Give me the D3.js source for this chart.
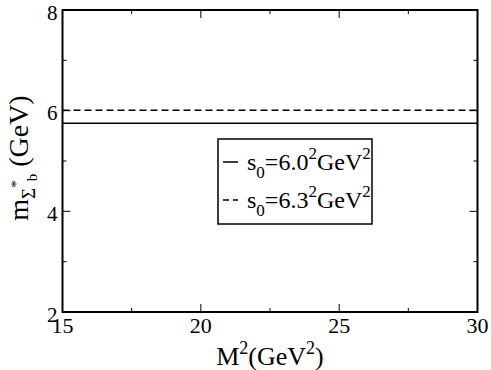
<!DOCTYPE html>
<html>
<head>
<meta charset="utf-8">
<script src="https://cdn.jsdelivr.net/npm/d3@7"></script>
</head>
<body style="margin:0">
<svg id="plot" width="491" height="370"></svg>
<script>
// M^2 values (GeV^2) and the mass
const m2 = [15, 17.5, 20, 22.5, 25, 27.5, 30];
const massS60 = [5.75, 5.75, 5.75, 5.75, 5.75, 5.75, 5.75];
const massS63 = [6.01, 6.01, 6.01, 6.01, 6.01, 6.01, 6.01];
const xTicks = [15, 20, 25, 30];
const yTicks = [2, 4, 6, 8];
const xMinor = [17.5, 22.5, 27.5];
const yMinor = [3, 5, 7];

const FONT = "Liberation Serif";
const svg = d3.select("#plot");
const margin = { top: 10, right: 13.5, bottom: 58, left: 62.5 };
const width = +svg.attr("width");
const height = +svg.attr("height");
const plotW = width - margin.left - margin.right;
const plotH = height - margin.top - margin.bottom;

const x = d3.scaleLinear().domain([15, 30]).range([0, plotW]);
const y = d3.scaleLinear().domain([2, 8]).range([plotH, 0]);

function txt(parent) {
  return parent.append("text").attr("font-family", FONT).style("font-family", "'Liberation Serif', Times, serif");
}

const g = svg.append("g").attr("transform", `translate(${margin.left},${margin.top})`);

// ticks, inward on all four sides
const tickG = g.append("g").attr("stroke", "#000").attr("stroke-width", 1);
xTicks.concat(xMinor).forEach(v => {
  const len = xTicks.includes(v) ? 8 : 4;
  tickG.append("line").attr("x1", x(v)).attr("x2", x(v)).attr("y1", plotH).attr("y2", plotH - len);
  tickG.append("line").attr("x1", x(v)).attr("x2", x(v)).attr("y1", 0).attr("y2", len);
});
yTicks.concat(yMinor).forEach(v => {
  const len = yTicks.includes(v) ? 8 : 4;
  tickG.append("line").attr("x1", 0).attr("x2", len).attr("y1", y(v)).attr("y2", y(v));
  tickG.append("line").attr("x1", plotW).attr("x2", plotW - len).attr("y1", y(v)).attr("y2", y(v));
});

// tick labels
xTicks.forEach(d => {
  txt(g).attr("x", x(d)).attr("y", plotH + 21)
    .attr("text-anchor", "middle").attr("font-size", 22).text(d);
});
yTicks.forEach(d => {
  txt(g).attr("x", -5).attr("y", y(d) + 9.5)
    .attr("text-anchor", "end").attr("font-size", 21).text(d);
});

// data lines
const line = d3.line().x((d, i) => x(m2[i])).y(d => y(d));
g.append("path").datum(massS60).attr("d", line)
  .attr("fill", "none").attr("stroke", "#000").attr("stroke-width", 1.5);
g.append("path").datum(massS63).attr("d", line)
  .attr("fill", "none").attr("stroke", "#000").attr("stroke-width", 1.5)
  .attr("stroke-dasharray", "7,4");

// frame
g.append("rect").attr("width", plotW).attr("height", plotH)
  .attr("fill", "none").attr("stroke", "#000").attr("stroke-width", 2);

// legend
const leg = svg.append("g").attr("transform", "translate(218,139)");
leg.append("rect").attr("width", 154).attr("height", 85)
  .attr("fill", "#fff").attr("stroke", "#000").attr("stroke-width", 1.5);
const legendItems = [
  { label: "6.0", dash: null, yy: 23 },
  { label: "6.3", dash: "6,4", yy: 61 }
];
legendItems.forEach(it => {
  leg.append("line").attr("x1", 5).attr("x2", 20).attr("y1", it.yy).attr("y2", it.yy)
    .attr("stroke", "#000").attr("stroke-width", 1.5)
    .attr("stroke-dasharray", it.dash);
  const t = txt(leg).attr("x", 29).attr("y", it.yy + 8).attr("font-size", 24);
  t.append("tspan").text("s");
  t.append("tspan").attr("dy", 8).attr("font-size", 17).text("0");
  t.append("tspan").attr("dy", -8).text("=" + it.label);
  t.append("tspan").attr("dy", -11).attr("font-size", 17).text("2");
  t.append("tspan").attr("dy", 11).text("GeV");
  t.append("tspan").attr("dy", -11).attr("font-size", 17).text("2");
});

// x axis title
const xt = txt(svg).attr("x", margin.left + plotW / 2).attr("y", 365)
  .attr("text-anchor", "middle").attr("font-size", 26);
xt.append("tspan").text("M");
xt.append("tspan").attr("dy", -11).attr("font-size", 18).text("2");
xt.append("tspan").attr("dy", 11).text("(GeV");
xt.append("tspan").attr("dy", -11).attr("font-size", 18).text("2");
xt.append("tspan").attr("dy", 11).text(")");

// y axis title
const yt = txt(svg).attr("transform", "translate(28,158) rotate(-90)")
  .attr("text-anchor", "middle").attr("font-size", 28);
yt.append("tspan").text("m");
yt.append("tspan").attr("dy", 7).attr("font-size", 19).text("Σ");
yt.append("tspan").attr("dy", -14).attr("font-size", 15).text("*");
yt.append("tspan").attr("dy", 16).attr("dx", -1).attr("font-size", 15).text("b");
yt.append("tspan").attr("dy", -9).text(" (GeV)");
</script>
</body>
</html>
